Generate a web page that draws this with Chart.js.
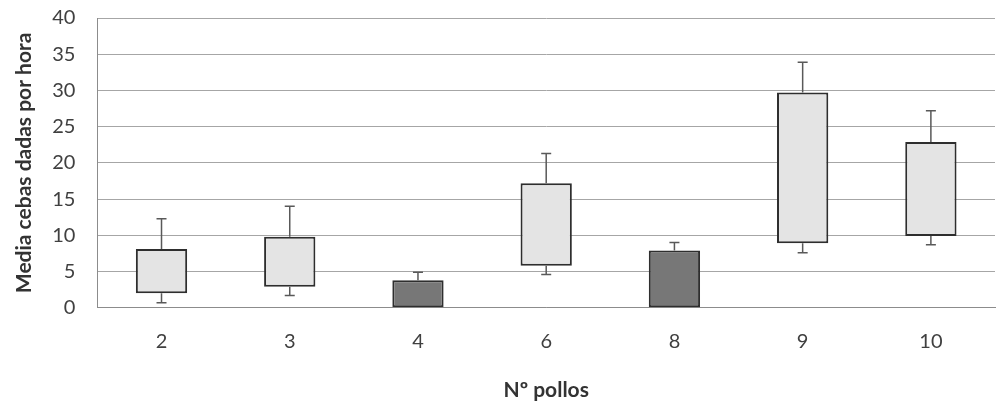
<!DOCTYPE html>
<html>
<head>
<meta charset="utf-8">
<script src="https://cdn.jsdelivr.net/npm/chart.js@4"></script>
<style>
  html, body { margin: 0; padding: 0; background: #fff; }
  #wrap { width: 996px; height: 403px; }
</style>
</head>
<body>
<div id="wrap"><canvas id="chart" width="996" height="403"></canvas></div>
<script>
// Data
const categories = ['2', '3', '4', '6', '8', '9', '10'];
const boxLow = [2, 2.9, null, 5.8, null, 8.9, 9.9];
const boxHigh = [8.1, 9.8, null, 17.2, null, 29.7, 22.9];
const darkBars = [null, null, 3.8, null, 7.9, null, null];
const whiskerHigh = [12.3, 14, 4.9, 21.3, 9.0, 33.9, 27.2];
const whiskerLow = [0.7, 1.7, null, 4.6, null, 7.6, 8.7];
const yTicks = [0, 5, 10, 15, 20, 25, 30, 35, 40];

const fontFamily = 'Lato, "Open Sans", sans-serif';

// Floating boxes [low, high]
const lightData = boxLow.map((lo, i) => lo === null ? null : [lo, boxHigh[i]]);

// Whiskers drawn on top of the bars
const whiskers = {
    id: 'whiskers',
    afterDatasetsDraw(chart) {
        const ctx = chart.ctx;
        const xs = chart.scales.x, ys = chart.scales.y;
        ctx.save();
        ctx.strokeStyle = '#595959';
        ctx.lineWidth = 1.5;
        categories.forEach((c, i) => {
            const x = xs.getPixelForValue(i);
            const top = boxHigh[i] !== null ? boxHigh[i] : darkBars[i];
            const bottom = boxLow[i];
            const seg = (from, to) => {
                const y1 = ys.getPixelForValue(from), y2 = ys.getPixelForValue(to);
                ctx.beginPath();
                ctx.moveTo(x, y1);
                ctx.lineTo(x, y2);
                ctx.moveTo(x - 5, y2);
                ctx.lineTo(x + 5, y2);
                ctx.stroke();
            };
            if (whiskerHigh[i] !== null) seg(top, whiskerHigh[i]);
            if (whiskerLow[i] !== null && bottom !== null) seg(bottom, whiskerLow[i]);
        });
        ctx.restore();
    }
};

let ctx = document.getElementById('chart').getContext('2d');
let chart = new Chart(ctx, {
    type: 'bar',
    data: {
        labels: categories,
        datasets: [
            { data: lightData, backgroundColor: '#e4e4e4', borderColor: '#2e2e2e', borderWidth: 2, borderSkipped: false },
            { data: darkBars, backgroundColor: '#777777', borderColor: '#2e2e2e', borderWidth: 2, borderSkipped: false }
        ]
    },
    options: {
        responsive: false,
        animation: false,
        layout: { padding: { top: 0, right: 1, left: 8, bottom: -4 } },
        plugins: { legend: { display: false }, tooltip: { enabled: false } },
        datasets: { bar: { grouped: false, categoryPercentage: 1, barPercentage: 0.4, skipNull: true } },
        scales: {
            x: {
                grid: { display: false },
                border: { color: '#8c8c8c', width: 1 },
                ticks: { color: '#404040', font: { family: fontFamily, size: 20 }, padding: 14 },
                title: { display: true, text: 'Nº pollos', color: '#333333', font: { family: fontFamily, size: 21, weight: 'bold' }, padding: { top: 10 } }
            },
            y: {
                min: 0, max: 40,
                afterBuildTicks: axis => { axis.ticks = yTicks.map(v => ({ value: v })); },
                grid: { color: '#a6a6a6', lineWidth: 1, drawTicks: true, tickLength: 16, tickColor: 'rgba(0,0,0,0)' },
                border: { color: '#8c8c8c', width: 1 },
                ticks: { color: '#404040', font: { family: fontFamily, size: 20 }, padding: 6 },
                title: { display: true, text: 'Media cebas dadas por hora', color: '#333333', font: { family: fontFamily, size: 21, weight: 'bold' }, padding: { bottom: 9 } }
            }
        }
    },
    plugins: [whiskers]
});
</script>
</body>
</html>
